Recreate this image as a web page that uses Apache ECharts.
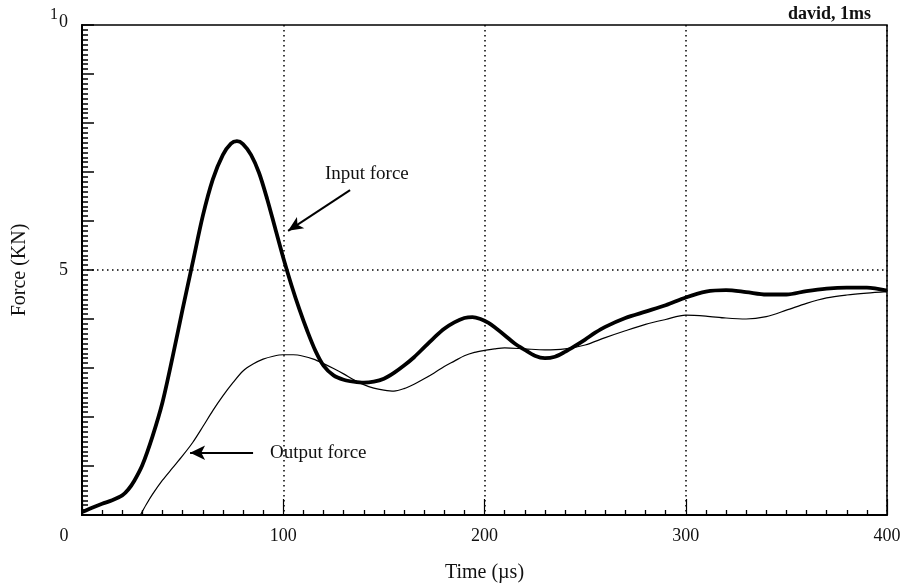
<!DOCTYPE html>
<html>
<head>
<meta charset="utf-8">
<script src="https://cdn.jsdelivr.net/npm/echarts@6/dist/echarts.min.js"></script>
<style>html,body{margin:0;padding:0;background:#fff}#c{width:912px;height:588px}</style>
</head>
<body>
<div id="c"></div>
<script>
// Tick labels
const xTickLabels = ['0', '100', '200', '300', '400'];
const yTickLabels = ['5', '10'];

// Input force (thick curve)
const inputTime  = [0, 5, 10, 15, 20, 23, 26, 30, 35, 40, 45, 50, 55, 60, 65, 70, 74, 77, 80, 84, 88, 92, 96, 100, 104, 108, 112, 116, 120, 125, 130, 135, 140, 145, 150, 155, 160, 165, 170, 175, 180, 185, 190, 194, 198, 202, 206, 210, 215, 220, 225, 230, 235, 240, 245, 250, 255, 260, 270, 280, 290, 300, 310, 320, 330, 340, 350, 360, 370, 380, 390, 400];
const inputForce = [0.06, 0.15, 0.23, 0.3, 0.4, 0.52, 0.7, 1.02, 1.6, 2.3, 3.22, 4.2, 5.15, 6.1, 6.85, 7.35, 7.58, 7.63, 7.57, 7.35, 6.98, 6.45, 5.85, 5.25, 4.7, 4.2, 3.75, 3.35, 3.05, 2.85, 2.76, 2.72, 2.7, 2.72, 2.78, 2.9, 3.05, 3.22, 3.42, 3.62, 3.8, 3.93, 4.02, 4.04, 4.0, 3.92, 3.8, 3.67, 3.5, 3.37, 3.25, 3.2, 3.23, 3.33, 3.45, 3.58, 3.72, 3.84, 4.02, 4.15, 4.28, 4.44, 4.56, 4.59, 4.55, 4.5, 4.5, 4.57, 4.62, 4.64, 4.64, 4.58];

// Output force (thin curve)
const outputTime  = [29, 32, 35, 40, 45, 50, 55, 60, 65, 70, 75, 80, 85, 90, 95, 100, 105, 110, 115, 120, 125, 130, 135, 140, 145, 150, 155, 160, 165, 170, 175, 180, 185, 190, 195, 200, 205, 210, 220, 230, 240, 250, 260, 270, 280, 290, 300, 310, 320, 330, 340, 350, 360, 370, 380, 390, 400];
const outputForce = [0, 0.22, 0.42, 0.71, 0.96, 1.21, 1.48, 1.8, 2.13, 2.43, 2.7, 2.94, 3.08, 3.18, 3.24, 3.27, 3.27, 3.24, 3.18, 3.09, 2.99, 2.88, 2.76, 2.66, 2.59, 2.55, 2.53, 2.58, 2.67, 2.78, 2.9, 3.03, 3.14, 3.25, 3.32, 3.36, 3.39, 3.41, 3.39, 3.37, 3.39, 3.47, 3.62, 3.76, 3.89, 3.99, 4.08, 4.06, 4.02, 4.0, 4.05, 4.18, 4.32, 4.43, 4.49, 4.53, 4.56];

// Annotations (data coordinates)
const inputLabel = {text: 'Input force', at: [120.7, 6.95], arrowFrom: [133.2, 6.63], arrowTo: [102.4, 5.8]};
const outputLabel = {text: 'Output force', at: [93.4, 1.27], arrowFrom: [85, 1.27], arrowTo: [53.7, 1.27]};
const refForce = 5;

const serif = 'Liberation Serif';
const chart = echarts.init(document.getElementById('c'));
const zip = (a, b) => a.map((v, i) => [v, b[i]]);

chart.setOption({
  animation: false,
  backgroundColor: '#fff',
  title: {
    text: 'david, 1ms', right: 36, top: 0,
    textStyle: {fontFamily: serif, fontSize: 18, fontWeight: 'bold', color: '#111'}
  },
  grid: {left: 82, right: 25, top: 25, bottom: 68, show: true, borderColor: '#000', borderWidth: 1.5, backgroundColor: 'transparent'},
  xAxis: {
    type: 'value', min: 0, max: 400, interval: 100,
    name: 'Time (\u00b5s)', nameLocation: 'middle', nameGap: 48,
    nameTextStyle: {fontFamily: serif, fontSize: 20, color: '#111'},
    axisLine: {show: true, onZero: false, lineStyle: {color: '#000', width: 2}},
    axisTick: {show: true, inside: true, length: 16, lineStyle: {color: '#000', width: 1.2}},
    minorTick: {show: true, splitNumber: 10, length: 5, lineStyle: {color: '#000', width: 1.3}},
    splitLine: {show: true, lineStyle: {color: '#000', type: [1.5, 3.5], width: 1.5}},
    axisLabel: {
      margin: 12, fontFamily: serif, fontSize: 18, color: '#111',
      formatter: v => {
        const s = String(v);
        if (s === xTickLabels[0]) return '{z|' + s + '}';
        return xTickLabels.includes(s) ? s : '';
      },
      rich: {z: {fontFamily: serif, fontSize: 18, color: '#111', padding: [0, 36, 0, 0]}}
    }
  },
  yAxis: {
    type: 'value', min: 0, max: 10, interval: 1,
    name: 'Force (KN)', nameLocation: 'middle', nameGap: 52,
    nameTextStyle: {fontFamily: serif, fontSize: 20, color: '#111'},
    axisLine: {show: true, onZero: false, lineStyle: {color: '#000', width: 2}},
    axisTick: {show: true, inside: true, length: 12, lineStyle: {color: '#000', width: 1.5}},
    minorTick: {show: true, splitNumber: 10, length: 6, lineStyle: {color: '#000', width: 1.5}},
    minorSplitLine: {show: false},
    splitLine: {show: false},
    axisLabel: {
      margin: 14, fontFamily: serif, fontSize: 18, color: '#111',
      formatter: v => {
        const s = String(v);
        if (s === '10') return '{a|1}{b|0}';
        return yTickLabels.includes(s) ? s : '';
      },
      rich: {
        a: {fontFamily: serif, fontSize: 16, color: '#111', verticalAlign: 'top', padding: [0, 1, 0, 0]},
        b: {fontFamily: serif, fontSize: 18, color: '#111', padding: [6, 0, 12, 0]}
      }
    }
  },
  series: [
    {
      name: 'Input force', type: 'line', data: zip(inputTime, inputForce),
      smooth: 0.3, showSymbol: false, symbol: 'none',
      lineStyle: {color: '#000', width: 3.8}, z: 3,
      markLine: {
        silent: true, animation: false,
        label: {show: false},
        data: [
          [{coord: inputLabel.arrowFrom, symbol: 'none'}, {coord: inputLabel.arrowTo, symbol: 'arrow', symbolSize: [10, 15]}],
          [{coord: outputLabel.arrowFrom, symbol: 'none'}, {coord: outputLabel.arrowTo, symbol: 'arrow', symbolSize: [11, 15]}],
          [{coord: [0, refForce], symbol: 'none', lineStyle: {type: [1.5, 3.5], width: 1.5}}, {coord: [400, refForce], symbol: 'none'}]
        ],
        lineStyle: {color: '#000', width: 2, type: 'solid'}
      },
      markPoint: {
        silent: true, animation: false,
        symbol: 'circle', symbolSize: 0,
        data: [
          {coord: inputLabel.at, value: inputLabel.text},
          {coord: outputLabel.at, value: outputLabel.text}
        ],
        label: {show: true, position: 'right', distance: 0, formatter: p => p.value, fontFamily: serif, fontSize: 19, color: '#111'}
      }
    },
    {
      name: 'Output force', type: 'line', data: zip(outputTime, outputForce),
      smooth: 0.3, showSymbol: false, symbol: 'none',
      lineStyle: {color: '#000', width: 1.2}, z: 2
    }
  ]
});
</script>
</body>
</html>
